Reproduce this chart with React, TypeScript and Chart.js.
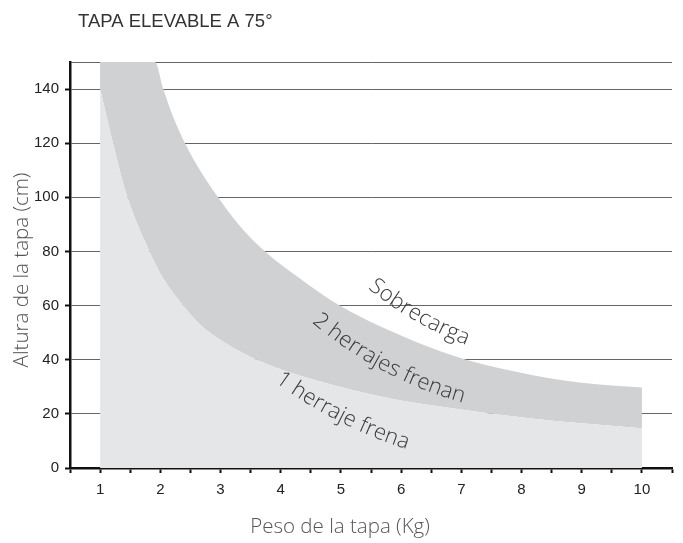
import React, { useEffect, useRef } from "react";
import { Chart, registerables } from "chart.js";

Chart.register(...registerables);

// ---- Data ----
const chartTitle = "TAPA ELEVABLE A 75°";
const xAxisTitle = "Peso de la tapa (Kg)";
const yAxisTitle = "Altura de la tapa (cm)";

// lower boundary: "1 herraje frena" zone below, "2 herrajes frenan" band above
const lowerX = [1, 1.22, 1.44, 1.82, 2.05, 2.36, 2.66, 2.95, 3.5, 4, 4.57, 5.7, 7.08, 8.2, 10];
const lowerY = [140, 119.5, 101, 80, 70, 60.5, 53, 48, 41, 36.5, 32.5, 26.2, 21.3, 18.2, 14.7];

// upper boundary: "Sobrecarga" above
const upperX = [1, 1.91, 2.05, 2.2, 2.41, 2.66, 2.96, 3.3, 3.74, 4.32, 4.98, 6.2, 7.08, 8.19, 9, 10];
const upperY = [150, 150, 140, 130.5, 120, 110, 100, 90, 80, 70, 60, 47, 40, 34.3, 31.5, 29.7];

// curve labels (text, anchor x, anchor y in data units, angle deg, arc radius px)
const labelTexts = ["Sobrecarga", "2 herrajes frenan", "1 herraje frena"];
const labelX = [6.28, 5.75, 5.0];
const labelY = [56.5, 38.0, 19.5];
const labelAngle = [30, 28, 27];
const labelRadius = [350, 400, 450];

const Y_MIN = 0;
const Y_MAX = 150;
const X_MIN = 0.5;
const X_MAX = 10.5;

function drawArcText(ctx: CanvasRenderingContext2D, text: string, cx: number, cy: number, thetaDeg: number, R: number) {
  const th = (thetaDeg * Math.PI) / 180;
  const chars = Array.from(text);
  const widths = chars.map((c) => ctx.measureText(c).width);
  const total = widths.reduce((a, b) => a + b, 0);
  let s = -total / 2;
  for (let i = 0; i < chars.length; i++) {
    const mid = s + widths[i] / 2;
    const ang = th - mid / R;
    const x = cx + R * (Math.sin(th) - Math.sin(ang));
    const y = cy - R * (Math.cos(th) - Math.cos(ang));
    ctx.save();
    ctx.translate(x, y);
    ctx.rotate(ang);
    ctx.fillText(chars[i], 0, 0);
    ctx.restore();
    s += widths[i];
  }
}

const textPlugin = {
  id: "textPlugin",
  afterDraw(chart: any) {
    const ctx: CanvasRenderingContext2D = chart.ctx;
    ctx.save();
    // main title
    ctx.fillStyle = "#333";
    ctx.font = '18.5px "Liberation Sans", Arial, sans-serif';
    ctx.textAlign = "left";
    ctx.textBaseline = "alphabetic";
    ctx.fillText(chartTitle, 78, 27);

    // axis titles
    ctx.fillStyle = "#555";
    ctx.font = '300 20.5px "Open Sans", sans-serif';
    ctx.textAlign = "center";
    ctx.textBaseline = "middle";
    ctx.fillText(xAxisTitle, 340, 527);
    ctx.save();
    ctx.translate(22, 270);
    ctx.rotate(-Math.PI / 2);
    ctx.fillText(yAxisTitle, 0, 0);
    ctx.restore();

    // curve labels
    const xs = chart.scales.x;
    const ys = chart.scales.y;
    ctx.fillStyle = "#3a3a3a";
    ctx.font = '300 22px "Open Sans", sans-serif';
    ctx.textAlign = "center";
    ctx.textBaseline = "middle";
    for (let i = 0; i < labelTexts.length; i++) {
      drawArcText(
        ctx,
        labelTexts[i],
        xs.getPixelForValue(labelX[i]),
        ys.getPixelForValue(labelY[i]),
        labelAngle[i],
        labelRadius[i]
      );
    }
    ctx.restore();
  },
};

export default function App() {
  const ref = useRef<HTMLCanvasElement | null>(null);

  useEffect(() => {
    if (!ref.current) return;
    const lowerData = lowerX.map((x, i) => ({ x, y: lowerY[i] }));
    const upperData = upperX.map((x, i) => ({ x, y: upperY[i] }));
    const chart = new Chart(ref.current, {
      type: "line",
      data: {
        datasets: [
          {
            label: "1 herraje frena",
            data: lowerData,
            borderWidth: 0,
            borderColor: "rgba(0,0,0,0)",
            pointRadius: 0,
            backgroundColor: "#e5e6e8",
            fill: "origin",
            cubicInterpolationMode: "monotone",
          },
          {
            label: "2 herrajes frenan",
            data: upperData,
            borderWidth: 0,
            borderColor: "rgba(0,0,0,0)",
            pointRadius: 0,
            backgroundColor: "#d0d1d3",
            fill: "-1",
            cubicInterpolationMode: "monotone",
          },
        ],
      },
      options: {
        responsive: false,
        animation: false,
        layout: { padding: { top: 62, right: 11, left: 0, bottom: 0 } },
        plugins: {
          legend: { display: false },
          title: { display: false },
          tooltip: { enabled: false },
        },
        scales: {
          x: {
            type: "linear",
            min: X_MIN,
            max: X_MAX,
            z: 1,
            afterFit: (s: any) => {
              s.height = 75;
            },
            ticks: {
              stepSize: 0.5,
              autoSkip: false,
              maxRotation: 0,
              padding: 8,
              color: "#222",
              font: { family: '"Liberation Sans", Arial, sans-serif', size: 15 },
              callback: (v: any) => (Number.isInteger(v) && v >= 1 ? String(v) : ""),
            },
            grid: {
              drawOnChartArea: false,
              drawTicks: true,
              tickLength: 5,
              tickColor: "#111",
              tickWidth: 2,
            },
            border: { display: true, color: "#111", width: 2.5 },
            title: { display: false },
          },
          y: {
            type: "linear",
            min: Y_MIN,
            max: Y_MAX,
            z: 1,
            afterFit: (s: any) => {
              s.width = 70;
            },
            ticks: {
              stepSize: 20,
              padding: 6,
              color: "#222",
              font: { family: '"Liberation Sans", Arial, sans-serif', size: 15 },
              callback: (v: any) => (v === 150 ? "" : String(v)),
            },
            grid: {
              color: "#666",
              lineWidth: 1,
              tickLength: 5,
              tickWidth: 2,
              tickColor: (c: any) => (c.tick && c.tick.value === 150 ? "rgba(0,0,0,0)" : "#111"),
            },
            border: { display: true, color: "#111", width: 2.5 },
            title: { display: false },
          },
        },
      },
      plugins: [textPlugin],
    });
    return () => chart.destroy();
  }, []);

  return (
    <div style={{ position: "fixed", left: 0, top: 0, width: 683, height: 543, background: "#fff" }}>
      <canvas ref={ref} width={683} height={543} />
    </div>
  );
}
